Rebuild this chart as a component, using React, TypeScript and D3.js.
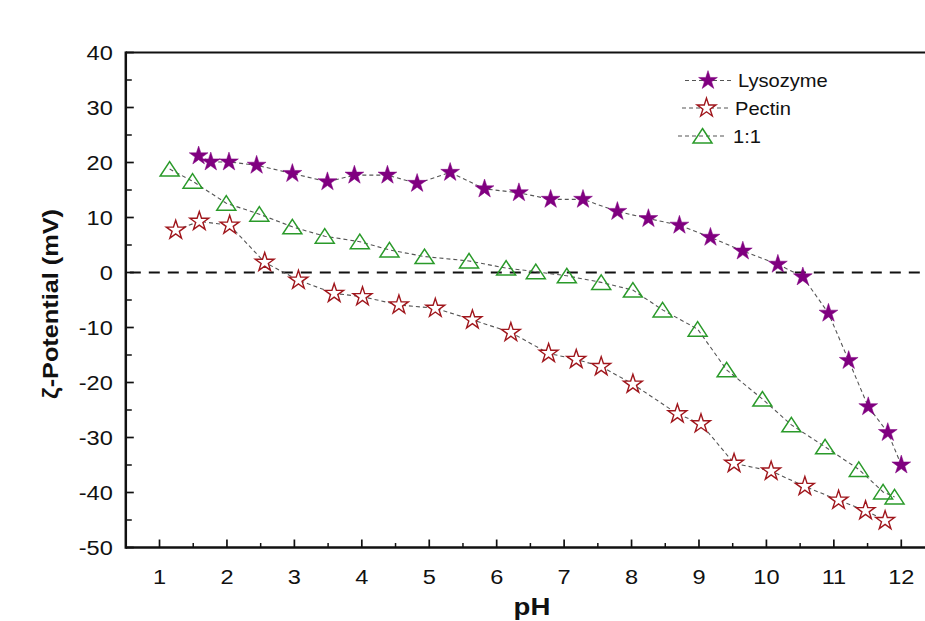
import React from "react";
import * as d3 from "d3";

const lysoPH = [1.58, 1.76, 2.03, 2.44, 2.97, 3.49, 3.89, 4.38, 4.82, 5.31, 5.82, 6.33, 6.80, 7.28, 7.79, 8.25, 8.71, 9.17, 9.65, 10.17, 10.54, 10.92, 11.22, 11.51, 11.80, 12.0];
const lysoZeta = [21.2, 20.1, 20.1, 19.5, 18.0, 16.5, 17.7, 17.7, 16.2, 18.2, 15.2, 14.5, 13.3, 13.3, 11.1, 9.8, 8.6, 6.4, 3.9, 1.5, -0.8, -7.4, -16.0, -24.4, -29.1, -35.0];

const pectinPH = [1.24, 1.59, 2.04, 2.56, 3.06, 3.59, 4.01, 4.55, 5.09, 5.64, 6.21, 6.77, 7.18, 7.55, 8.02, 8.68, 9.03, 9.52, 10.07, 10.57, 11.07, 11.47, 11.76];
const pectinZeta = [7.7, 9.3, 8.6, 1.85, -1.4, -3.8, -4.4, -5.9, -6.5, -8.6, -10.9, -14.7, -15.8, -17.1, -20.3, -25.7, -27.5, -34.7, -36.1, -38.9, -41.4, -43.3, -45.1];

const mixPH = [1.15, 1.49, 1.99, 2.48, 2.97, 3.45, 3.97, 4.41, 4.93, 5.59, 6.14, 6.58, 7.04, 7.55, 8.02, 8.46, 8.98, 9.41, 9.94, 10.37, 10.87, 11.37, 11.73, 11.90];
const mixZeta = [18.8, 16.6, 12.6, 10.6, 8.3, 6.6, 5.6, 4.1, 2.9, 2.1, 0.8, 0.15, -0.6, -1.8, -3.2, -6.8, -10.3, -17.7, -23.0, -27.7, -31.7, -35.8, -39.9, -40.8];

const xTicks = [1, 2, 3, 4, 5, 6, 7, 8, 9, 10, 11, 12];
const xMinor = [1.5, 2.5, 3.5, 4.5, 5.5, 6.5, 7.5, 8.5, 9.5, 10.5, 11.5, 12.5];
const yTicks = [40, 30, 20, 10, 0, -10, -20, -30, -40, -50];
const yMinor = [35, 25, 15, 5, -5, -15, -25, -35, -45];

const legendLabels = ["Lysozyme", "Pectin", "1:1"];

const W = 925;
const H = 621;
const FONT = "'Liberation Sans', Arial, sans-serif";

const x = d3.scaleLinear().domain([0.5, 12.5]).range([125.8, 935]);
const y = d3.scaleLinear().domain([-50, 40]).range([547.5, 52.5]);

const PURPLE = "#800080";
const RED = "#a0161c";
const GREEN = "#2a9a2a";
const LINE = "#555";

const starPath = d3.symbol().type(d3.symbolStar).size(110)()!;
const triPath = "M0,-7.5 L9.5,7 L-9.5,7 Z";

type MarkerKind = "fstar" | "ostar" | "tri";

function Marker({ cx, cy, marker }: { cx: number; cy: number; marker: MarkerKind }) {
  if (marker === "fstar")
    return <path d={starPath} transform={`translate(${cx},${cy})`} fill={PURPLE} stroke={PURPLE} strokeWidth={0.5} />;
  if (marker === "ostar")
    return <path d={starPath} transform={`translate(${cx},${cy})`} fill="white" stroke={RED} strokeWidth={1.4} />;
  return <path d={triPath} transform={`translate(${cx},${cy})`} fill="none" stroke={GREEN} strokeWidth={1.5} />;
}

function Series({ xs, ys, marker }: { xs: number[]; ys: number[]; marker: MarkerKind }) {
  const pts: [number, number][] = xs.map((v, i) => [x(v), y(ys[i])]);
  const line = d3.line()(pts)!;
  return (
    <g>
      <path d={line} fill="none" stroke={LINE} strokeWidth={1.1} strokeDasharray="4 3" />
      {pts.map((p, i) => (
        <Marker key={i} cx={p[0]} cy={p[1]} marker={marker} />
      ))}
    </g>
  );
}

export default function App() {
  const left = x(0.5);
  const right = W + 5;
  const top = y(40);
  const bottom = y(-50);
  const sx = 1.15;

  const legend = [
    { label: legendLabels[0], marker: "fstar" as MarkerKind, ly: 80.5, x0: 685, x1: 731, mx: 708, tx: 738 },
    { label: legendLabels[1], marker: "ostar" as MarkerKind, ly: 108, x0: 682, x1: 729, mx: 706.5, tx: 735 },
    { label: legendLabels[2], marker: "tri" as MarkerKind, ly: 136, x0: 678, x1: 726, mx: 702.5, tx: 733 },
  ];

  return (
    <div style={{ position: "absolute", left: 0, top: 0 }}>
      <svg width={W} height={H} style={{ display: "block", background: "white" }}>
        <line x1={left} x2={right} y1={y(0)} y2={y(0)} stroke="#111" strokeWidth={2.2} strokeDasharray="11 8" strokeDashoffset={-4} />

        <Series xs={lysoPH} ys={lysoZeta} marker="fstar" />
        <Series xs={pectinPH} ys={pectinZeta} marker="ostar" />
        <Series xs={mixPH} ys={mixZeta} marker="tri" />

        <line x1={left} x2={right} y1={top} y2={top} stroke="#111" strokeWidth={2.2} />
        <line x1={left} x2={right} y1={bottom} y2={bottom} stroke="#111" strokeWidth={2.5} />
        <line x1={left} x2={left} y1={top - 1} y2={bottom + 1.2} stroke="#111" strokeWidth={2.5} />

        {xTicks.map((t) => (
          <g key={"xt" + t}>
            <line x1={x(t)} x2={x(t)} y1={bottom} y2={bottom - 8} stroke="#111" strokeWidth={1.7} />
            <text
              transform={`translate(${x(t)},${bottom + 36}) scale(${sx},1)`}
              textAnchor="middle"
              fontFamily={FONT}
              fontSize={20.5}
              fill="#111"
            >
              {t}
            </text>
          </g>
        ))}
        {xMinor.map((t) => (
          <line key={"xm" + t} x1={x(t)} x2={x(t)} y1={bottom} y2={bottom - 4.5} stroke="#111" strokeWidth={1.5} />
        ))}

        {yTicks.map((t) => (
          <g key={"yt" + t}>
            <line x1={left} x2={left + 8} y1={y(t)} y2={y(t)} stroke="#111" strokeWidth={1.7} />
            <text
              transform={`translate(${left - 13},${y(t) + 7.5}) scale(${sx},1)`}
              textAnchor="end"
              fontFamily={FONT}
              fontSize={20.5}
              fill="#111"
            >
              {t}
            </text>
          </g>
        ))}
        {yMinor.map((t) => (
          <line key={"ym" + t} x1={left} x2={left + 6} y1={y(t)} y2={y(t)} stroke="#111" strokeWidth={1.5} />
        ))}

        <text
          transform={`translate(532,615) scale(${sx},1)`}
          textAnchor="middle"
          fontFamily={FONT}
          fontWeight="bold"
          fontSize={24}
          fill="#111"
        >
          pH
        </text>
        <text
          transform={`translate(58,304) rotate(-90) scale(${sx},1)`}
          textAnchor="middle"
          fontFamily={FONT}
          fontWeight="bold"
          fontSize={22}
          fill="#111"
        >
          ζ-Potential (mV)
        </text>

        {legend.map((l) => (
          <g key={l.label}>
            <line x1={l.x0} x2={l.x1} y1={l.ly} y2={l.ly} stroke={LINE} strokeWidth={1.1} strokeDasharray="4 3" />
            <Marker cx={l.mx} cy={l.ly} marker={l.marker} />
            <text
              transform={`translate(${l.tx},${l.ly + 6.5}) scale(${sx},1)`}
              fontFamily={FONT}
              fontSize={17.5}
              fill="#111"
            >
              {l.label}
            </text>
          </g>
        ))}
      </svg>
    </div>
  );
}
